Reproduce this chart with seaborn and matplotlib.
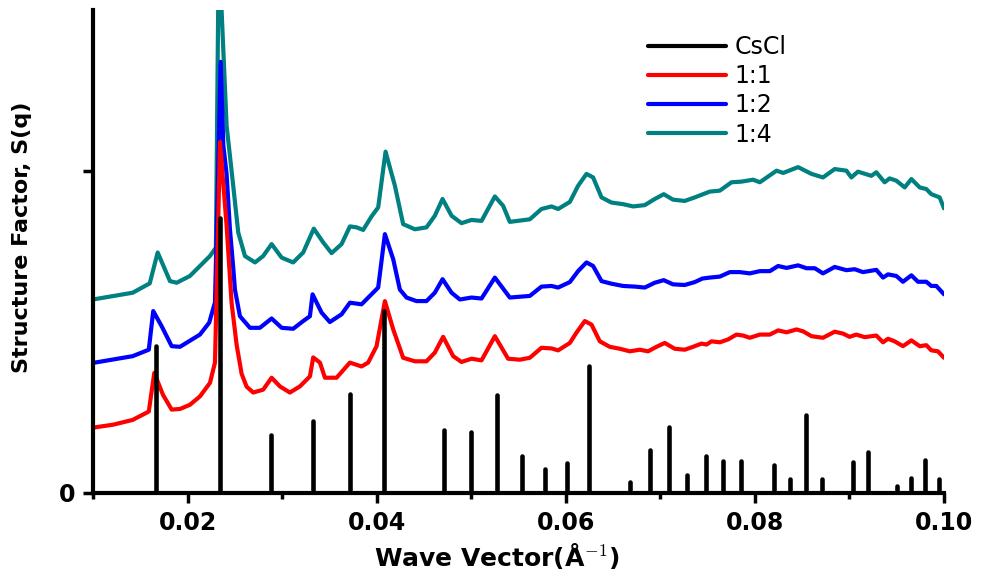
import numpy as np
import pandas as pd
import matplotlib
matplotlib.use("Agg")
import matplotlib.pyplot as plt
from matplotlib.lines import Line2D
import seaborn as sns

# ---------------- data ----------------
series_names = ["CsCl", "1:1", "1:2", "1:4"]
series_colors = ["#000000", "#ff0000", "#0000ff", "#008080"]

# CsCl: sharp Bragg peaks (position, height)
cscl_q = [0.01666, 0.02343, 0.02882, 0.03329, 0.03717, 0.04079, 0.04713, 0.0500,
          0.05271, 0.05532, 0.05778, 0.06018, 0.06246, 0.06684, 0.06888, 0.07092,
          0.07287, 0.0748, 0.07663, 0.0785, 0.08202, 0.08375, 0.08545, 0.08709,
          0.09037, 0.09196, 0.09507, 0.09655, 0.09803, 0.09947]
cscl_s = [4.55, 8.55, 1.80, 2.24, 3.06, 5.65, 1.97, 1.90, 3.05, 1.15, 0.74, 0.92,
          3.93, 0.34, 1.33, 2.06, 0.55, 1.15, 1.00, 1.00, 0.87, 0.45, 2.42, 0.42,
          0.95, 1.26, 0.22, 0.48, 1.02, 0.45]

# 1:1 (red)
r11_q = [0.0100, 0.0121, 0.0142, 0.0159, 0.01648, 0.0174, 0.01832, 0.0192, 0.02025,
         0.02131, 0.02237, 0.0229, 0.0232, 0.02343, 0.0236, 0.02413, 0.02466, 0.02519,
         0.02572, 0.02625, 0.02695, 0.0280, 0.02889, 0.02977, 0.03082, 0.03188, 0.03294,
         0.03329, 0.0340, 0.03453, 0.03576, 0.03717, 0.0384, 0.0391, 0.03999, 0.04087,
         0.04175, 0.0428, 0.04404, 0.04527, 0.04615, 0.04703, 0.04809, 0.04897, 0.05003,
         0.05109, 0.0525, 0.0539, 0.05514, 0.0562, 0.05743, 0.05849, 0.05919, 0.06043,
         0.06113, 0.06201, 0.06272, 0.0636, 0.06465, 0.06571, 0.06677, 0.06782, 0.0687,
         0.06959, 0.07047, 0.07152, 0.07258, 0.07346, 0.07435, 0.07488, 0.07541, 0.07629,
         0.07717, 0.07805, 0.07875, 0.07946, 0.08052, 0.08158, 0.08246, 0.08335, 0.0844,
         0.0851, 0.08599, 0.0872, 0.08844, 0.08932, 0.09002, 0.09073, 0.09161, 0.09284,
         0.09355, 0.09408, 0.09478, 0.09566, 0.09655, 0.09743, 0.09813, 0.09866, 0.09936,
         0.1000]
r11_s = [2.03, 2.12, 2.27, 2.53, 3.73, 3.05, 2.59, 2.61, 2.74,
         3.00, 3.42, 4.05, 7.85, 10.90, 10.28, 8.30, 5.90, 4.60,
         3.70, 3.30, 3.12, 3.21, 3.58, 3.31, 3.12, 3.31, 3.62,
         4.21, 4.05, 3.58, 3.58, 4.05, 3.93, 4.05, 4.56, 5.96,
         5.08, 4.20, 4.09, 4.09, 4.36, 4.85, 4.25, 4.07, 4.17,
         4.12, 4.87, 4.17, 4.14, 4.20, 4.51, 4.49, 4.43, 4.66,
         4.98, 5.34, 5.23, 4.71, 4.54, 4.48, 4.40, 4.45, 4.40,
         4.54, 4.66, 4.48, 4.45, 4.54, 4.64, 4.61, 4.71, 4.68,
         4.77, 4.92, 4.89, 4.82, 4.92, 4.92, 5.05, 4.99, 5.08,
         5.02, 4.87, 4.82, 5.01, 4.95, 4.85, 4.92, 4.84, 4.89,
         4.68, 4.79, 4.71, 4.56, 4.74, 4.56, 4.59, 4.43, 4.40,
         4.20]

# 1:2 (blue)
r12_q = [0.0100, 0.0142, 0.0159, 0.01637, 0.01726, 0.01832, 0.0192, 0.02131, 0.02229,
         0.0229, 0.0235, 0.02378, 0.02413, 0.02448, 0.02483, 0.02501, 0.02554, 0.0266,
         0.02765, 0.02889, 0.02995, 0.03117, 0.03223, 0.03294, 0.03322, 0.03418, 0.03505,
         0.03629, 0.03717, 0.0384, 0.03928, 0.04016, 0.04087, 0.04175, 0.04245, 0.04316,
         0.04421, 0.04527, 0.04615, 0.04697, 0.04792, 0.0488, 0.05003, 0.05109, 0.0525,
         0.05408, 0.0562, 0.05743, 0.05849, 0.05919, 0.06043, 0.0613, 0.06219, 0.06289,
         0.06378, 0.06483, 0.06606, 0.0673, 0.06835, 0.06941, 0.07036, 0.07134, 0.07258,
         0.07364, 0.07445, 0.07523, 0.07629, 0.07735, 0.0784, 0.07946, 0.08052, 0.08158,
         0.08246, 0.08335, 0.08457, 0.08546, 0.08634, 0.0872, 0.08844, 0.08968, 0.09055,
         0.09143, 0.09284, 0.09355, 0.09408, 0.09496, 0.09566, 0.09655, 0.09725, 0.09813,
         0.09866, 0.09919, 0.1000]
r12_s = [4.04, 4.25, 4.45, 5.65, 5.18, 4.56, 4.54, 4.92, 5.29,
         5.92, 13.39, 10.80, 9.90, 8.20, 7.00, 6.32, 5.49, 5.13,
         5.13, 5.42, 5.13, 5.10, 5.34, 5.49, 6.17, 5.60, 5.31,
         5.55, 5.91, 5.86, 6.12, 6.38, 8.04, 7.26, 6.32, 6.07,
         5.96, 5.96, 6.22, 6.64, 6.22, 6.01, 6.07, 6.04, 6.69,
         6.07, 6.12, 6.41, 6.43, 6.38, 6.55, 6.89, 7.16, 7.05,
         6.58, 6.50, 6.43, 6.41, 6.38, 6.53, 6.61, 6.48, 6.46,
         6.55, 6.66, 6.69, 6.72, 6.86, 6.86, 6.82, 6.89, 6.89,
         7.05, 6.99, 7.07, 6.98, 6.98, 6.82, 7.02, 6.92, 6.95,
         6.86, 6.93, 6.69, 6.79, 6.74, 6.56, 6.76, 6.56, 6.56,
         6.43, 6.43, 6.17]

# 1:4 (teal)
r14_q = [0.0100, 0.0142, 0.0160, 0.01684, 0.01814, 0.01885, 0.02025, 0.02131, 0.02237,
         0.0230, 0.0233, 0.02413, 0.02483, 0.02536, 0.02607, 0.02713, 0.0280, 0.02889,
         0.02995, 0.03117, 0.03223, 0.03335, 0.03435, 0.03523, 0.03629, 0.03717, 0.03788,
         0.03857, 0.03946, 0.04016, 0.04094, 0.04193, 0.0428, 0.04404, 0.04527, 0.04615,
         0.04697, 0.04792, 0.04897, 0.05003, 0.05109, 0.0525, 0.05337, 0.05408, 0.0562,
         0.05743, 0.05849, 0.05919, 0.06043, 0.0613, 0.06219, 0.06289, 0.06378, 0.06483,
         0.06606, 0.06712, 0.06835, 0.06941, 0.07036, 0.07134, 0.07258, 0.07364, 0.07452,
         0.07523, 0.07629, 0.07753, 0.07858, 0.07981, 0.08052, 0.08229, 0.08299, 0.08457,
         0.08599, 0.0872, 0.08844, 0.08968, 0.0902, 0.0909, 0.09232, 0.09284, 0.09372,
         0.09425, 0.09496, 0.09584, 0.09655, 0.09743, 0.09813, 0.09866, 0.09954, 0.1000]
r14_s = [6.01, 6.22, 6.51, 7.47, 6.58, 6.53, 6.74, 7.05, 7.36,
         7.62, 17.00, 11.41, 9.54, 8.09, 7.36, 7.16, 7.36, 7.73,
         7.31, 7.16, 7.47, 8.21, 7.78, 7.45, 7.73, 8.28, 8.25,
         8.17, 8.59, 8.87, 10.60, 9.54, 8.35, 8.19, 8.25, 8.61,
         9.13, 8.61, 8.38, 8.48, 8.45, 9.21, 8.92, 8.42, 8.50,
         8.82, 8.90, 8.82, 9.04, 9.54, 9.91, 9.80, 9.18, 9.02,
         8.97, 8.90, 8.94, 9.13, 9.28, 9.11, 9.07, 9.18, 9.28,
         9.36, 9.39, 9.65, 9.67, 9.73, 9.65, 10.01, 9.94, 10.12,
         9.91, 9.80, 10.06, 10.01, 9.80, 9.98, 9.85, 9.96, 9.65,
         9.77, 9.70, 9.49, 9.75, 9.49, 9.44, 9.28, 9.18, 8.84]

x_ticks = [0.02, 0.04, 0.06, 0.08, 0.10]
x_tick_labels = ["0.02", "0.04", "0.06", "0.08", "0.10"]
x_minor_ticks = [0.01, 0.03, 0.05, 0.07, 0.09]
y_ticks = [0, 10]
y_tick_labels = ["0", ""]

# ---------------- plotting ----------------
sns.set_style("ticks")
plt.rcParams["font.family"] = ["DejaVu Sans"]
plt.rcParams["mathtext.fontset"] = "cm"
for key in ["text.color", "axes.labelcolor", "xtick.color", "ytick.color",
            "axes.edgecolor"]:
    plt.rcParams[key] = "black"

df = pd.concat([
    pd.DataFrame({"q": r11_q, "S": r11_s, "sample": "1:1"}),
    pd.DataFrame({"q": r12_q, "S": r12_s, "sample": "1:2"}),
    pd.DataFrame({"q": r14_q, "S": r14_s, "sample": "1:4"}),
], ignore_index=True)

fig = plt.figure(figsize=(9.85, 5.8), dpi=100)
ax = fig.add_axes([93 / 985, 87 / 580, 851 / 985, 483 / 580])

palette = dict(zip(series_names, series_colors))
sns.lineplot(data=df, x="q", y="S", hue="sample", hue_order=["1:4", "1:2", "1:1"],
             palette=palette, estimator=None, sort=False, linewidth=3.0,
             legend=False, ax=ax)
for ln in ax.lines:
    ln.set_solid_joinstyle("round")
    ln.set_solid_capstyle("round")

vl = ax.vlines(cscl_q, 0, cscl_s, colors="black", linewidth=3.3, zorder=5)
vl.set_capstyle("round")

ax.set_xlim(0.01, 0.10)
ax.set_ylim(0, 15)

for side in ["top", "right"]:
    ax.spines[side].set_visible(False)
for side in ["left", "bottom"]:
    ax.spines[side].set_linewidth(3.0)
    ax.spines[side].set_color("black")
    ax.spines[side].set_zorder(6)

ax.set_xticks(x_ticks, labels=x_tick_labels, fontsize=17, fontweight="bold",
              color="black")
ax.set_xticks(x_minor_ticks, minor=True)
ax.set_yticks(y_ticks, labels=y_tick_labels, fontsize=17, fontweight="bold",
              color="black")
ax.tick_params(axis="both", which="major", direction="out", length=7, width=2.5,
               pad=6, color="black")
ax.tick_params(axis="x", which="minor", direction="out", length=4, width=2.5,
               color="black")

ax.set_xlabel("Wave Vector(Å$^{-1}$)", fontsize=18, fontweight="bold", color="black")
ax.set_ylabel("Structure Factor, S(q)", fontsize=16, fontweight="bold", color="black")
ax.xaxis.set_label_coords(0.475, -0.10)
ax.yaxis.set_label_coords(-0.072, 0.53)

handles = [Line2D([0], [0], color=c, linewidth=3.0) for c in series_colors]
leg = ax.legend(handles, series_names, loc="upper left",
                bbox_to_anchor=(648 / 985, 1 - 35 / 580), bbox_transform=fig.transFigure,
                frameon=False, handlelength=3.3, handletextpad=0.35, labelspacing=0.22,
                borderpad=0, borderaxespad=0, prop={"size": 17})
for t in leg.get_texts():
    t.set_color("black")

fig.savefig("out.png", dpi=100)
